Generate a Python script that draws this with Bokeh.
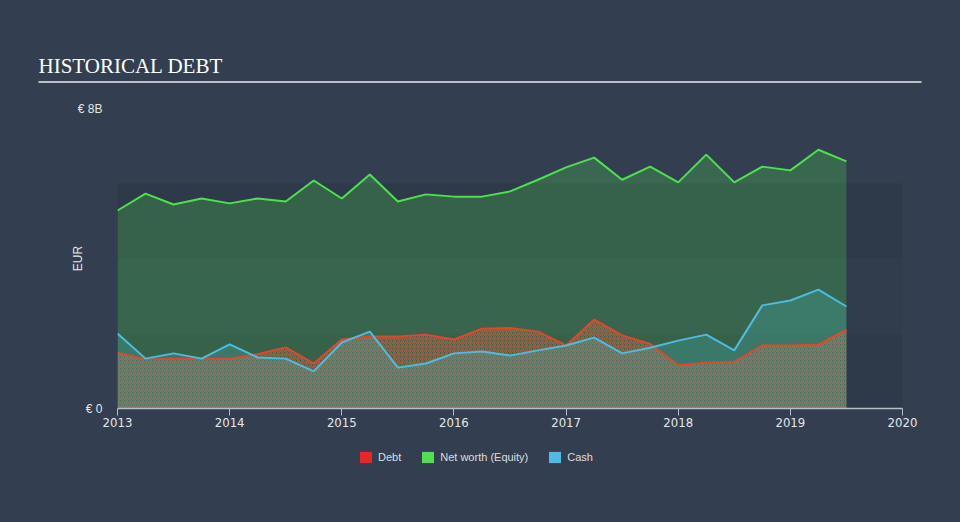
from bokeh.plotting import figure
from bokeh.layouts import column
from bokeh.models import (BoxAnnotation, Label, Legend, LegendItem,
                          FixedTicker, Range1d)
from bokeh.embed import file_html
from bokeh.resources import INLINE

# ---- data (EUR billions, quarterly) ----
quarters = [2013.0, 2013.25, 2013.5, 2013.75, 2014.0, 2014.25, 2014.5, 2014.75,
            2015.0, 2015.25, 2015.5, 2015.75, 2016.0, 2016.25, 2016.5, 2016.75,
            2017.0, 2017.25, 2017.5, 2017.75, 2018.0, 2018.25, 2018.5, 2018.75,
            2019.0, 2019.25, 2019.5]
debt = [1.49, 1.31, 1.33, 1.33, 1.33, 1.45, 1.63, 1.20,
        1.84, 1.92, 1.92, 1.97, 1.84, 2.13, 2.15, 2.05,
        1.68, 2.37, 1.95, 1.72, 1.15, 1.23, 1.25, 1.68,
        1.68, 1.70, 2.10]
equity = [5.28, 5.73, 5.44, 5.60, 5.47, 5.60, 5.52, 6.08,
          5.60, 6.24, 5.52, 5.71, 5.65, 5.65, 5.79, 6.10,
          6.43, 6.69, 6.10, 6.45, 6.03, 6.77, 6.03, 6.45,
          6.35, 6.90, 6.59]
cash = [2.00, 1.33, 1.47, 1.33, 1.71, 1.36, 1.33, 0.99,
        1.76, 2.05, 1.09, 1.20, 1.47, 1.52, 1.41, 1.55,
        1.68, 1.89, 1.47, 1.62, 1.81, 1.97, 1.55, 2.75,
        2.88, 3.17, 2.72]
zeros = [0.0] * len(quarters)
year_ticks = [2013, 2014, 2015, 2016, 2017, 2018, 2019, 2020]
y_ticks = [0, 8]
y_tick_labels = {0: "€ 0", 8: "€ 8B"}
title_text = "HISTORICAL DEBT"
legend_labels = ["Debt", "Net worth (Equity)", "Cash"]
legend_colors = ["#e8262a", "#4fe04f", "#4bbde0"]

BG = "#333f50"
GREEN = "#4fe04f"
BLUE = "#4bbde0"
RED = "#e2472c"
TXT = "#e6e6e6"


def bare(fig):
    fig.background_fill_color = BG
    fig.border_fill_color = None
    fig.outline_line_color = None
    fig.grid.visible = False
    fig.frame_align = False
    return fig


# ---------- header (title + rule) ----------
head = bare(figure(width=960, height=100, output_backend="svg", toolbar_location=None,
                   x_range=Range1d(0, 960), y_range=Range1d(0, 100),
                   x_axis_type=None, y_axis_type=None, min_border=0))
head.add_layout(Label(x=38, y=34.5, text=title_text, text_font="Liberation Serif",
                      text_font_size="21px", text_color="#ffffff",
                      text_baseline="middle"))
head.add_layout(BoxAnnotation(left=38, right=921, bottom=17.5, top=19.5,
                              fill_color="#bcc0c8", fill_alpha=1, line_color=None))

# ---------- main chart ----------
p = bare(figure(width=960, height=340, output_backend="svg", toolbar_location=None,
                x_range=Range1d(2013, 2020), y_range=Range1d(0, 8),
                min_border_left=117, min_border_right=58, min_border_top=8,
                min_border_bottom=32))

for b, t, c in [(0, 2, "#2e3949"), (2, 4, "#313c4c"), (4, 6, "#2e3949")]:
    p.add_layout(BoxAnnotation(bottom=b, top=t, fill_color=c, fill_alpha=1,
                               line_color=None, level="underlay"))

p.varea(x=quarters, y1=zeros, y2=equity, fill_color=GREEN, fill_alpha=0.25)
p.varea(x=quarters, y1=zeros, y2=debt, fill_alpha=0,
        hatch_pattern="/", hatch_color="#e0603e", hatch_alpha=0.6,
        hatch_scale=4, hatch_weight=1.5)
p.varea(x=quarters, y1=zeros, y2=cash, fill_color="#47b0b0", fill_alpha=0.3)

p.line(quarters, equity, line_color=GREEN, line_width=2)
p.line(quarters, debt, line_color=RED, line_width=2)
p.line(quarters, cash, line_color=BLUE, line_width=2)

xa = p.xaxis[0]
xa.ticker = FixedTicker(ticks=year_ticks)
xa.axis_line_color = "#b8bec8"
xa.axis_line_width = 1.5
xa.major_tick_line_color = "#b8bec8"
xa.major_tick_out = 7
xa.major_tick_in = 0
xa.minor_tick_line_color = None
xa.major_label_text_color = TXT
xa.major_label_text_font = "Liberation Sans Narrow, DejaVu Sans Condensed, Roboto Condensed, Liberation Sans"
xa.major_label_text_font_size = "13px"
xa.major_label_standoff = 2

ya = p.yaxis[0]
ya.ticker = FixedTicker(ticks=y_ticks)
ya.major_label_overrides = y_tick_labels
ya.axis_line_color = None
ya.major_tick_line_color = None
ya.major_tick_out = 0
ya.major_tick_in = 0
ya.minor_tick_line_color = None
ya.major_label_text_color = TXT
ya.major_label_text_font = "Liberation Sans"
ya.major_label_text_font_size = "12px"
ya.major_label_standoff = 15
ya.axis_label = "EUR"
ya.axis_label_text_font = "Liberation Sans"
ya.axis_label_text_font_style = "normal"
ya.axis_label_text_font_size = "12px"
ya.axis_label_text_color = TXT
ya.axis_label_standoff = -10

# ---------- footer (legend) ----------
foot = bare(figure(width=960, height=82, output_backend="svg", toolbar_location=None,
                   x_range=Range1d(0, 960), y_range=Range1d(0, 82),
                   x_axis_type=None, y_axis_type=None, min_border=0))
nan = float("nan")
items = []
for lab, col in zip(legend_labels, legend_colors):
    r = foot.quad(left=[nan], right=[nan], top=[nan], bottom=[nan],
                  fill_color=col, line_color=None)
    items.append(LegendItem(label=lab, renderers=[r]))
legend = Legend(items=items, location=(358, 58), orientation="horizontal",
                label_text_font="Liberation Sans", label_text_font_size="11px",
                label_text_color="#dddddd", glyph_width=15, glyph_height=14,
                label_height=14, label_standoff=5, spacing=19, padding=0, margin=0,
                background_fill_alpha=0, border_line_alpha=0)
foot.add_layout(legend)

layout = column(head, p, foot, spacing=0)

html = file_html(layout, INLINE)
style = "<style>html, body { background-color: %s !important; }</style>" % BG
html = html.replace("</head>", style + "</head>", 1)
open("out.html", "w").write(html)
